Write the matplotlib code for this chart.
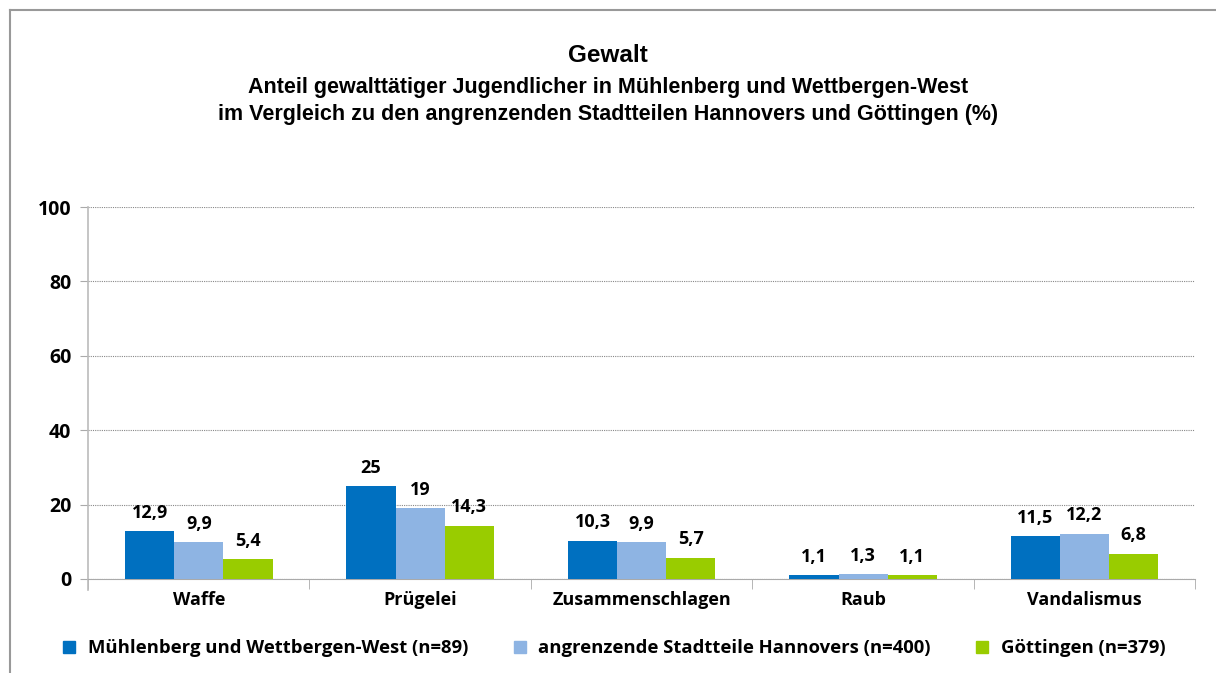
import matplotlib.pyplot as plt
import numpy as np
from matplotlib.lines import Line2D

kategorien = ['Waffe', 'Prügelei', 'Zusammenschlagen', 'Raub', 'Vandalismus']
muehlenberg = [12.9, 25, 10.3, 1.1, 11.5]
hannover = [9.9, 19, 9.9, 1.3, 12.2]
goettingen = [5.4, 14.3, 5.7, 1.1, 6.8]
serien = ['Mühlenberg und Wettbergen-West (n=89)',
          'angrenzende Stadtteile Hannovers (n=400)',
          'Göttingen (n=379)']
farben = ['#0070C0', '#8EB4E3', '#99CC00']

plt.rcParams['font.family'] = ['Open Sans', 'DejaVu Sans']

fig = plt.figure(figsize=(12.16, 6.73), dpi=100)
ax = fig.add_axes([0.0724, 0.1397, 0.9106, 0.5527])

x = np.arange(len(kategorien))
w = 0.222
for k, (werte, name) in enumerate(zip([muehlenberg, hannover, goettingen], serien)):
    pos = x + (k - 1) * w
    ax.bar(pos, werte, width=w, color=farben[k], label=name, zorder=3)
    for p, v in zip(pos, werte):
        txt = ('%g' % v).replace('.', ',')
        ax.text(p, v + 2.5, txt, ha='center', va='bottom', fontsize=13, fontweight='bold')

ax.set_xlim(-0.5, len(kategorien) - 0.5)
ax.set_ylim(0, 100)
ax.set_yticks(range(0, 101, 20))
ax.yaxis.grid(True, linestyle=(0, (1, 1)), color='#888888', linewidth=0.8, zorder=0)
for s in ['top', 'right']:
    ax.spines[s].set_visible(False)
ax.spines['left'].set_color('#BBBBBB')
ax.spines['bottom'].set_color('#AAAAAA')
ax.spines['left'].set_linewidth(1.2)
ax.spines['left'].set_bounds(-3, 100)
ax.set_xticks(x)
ax.set_xticklabels(kategorien, fontsize=13, fontweight='bold')
ax.set_xticks(np.arange(-0.5, len(kategorien)), minor=True)
ax.tick_params(axis='x', which='major', length=0, pad=9)
ax.tick_params(axis='x', which='minor', length=7, color='#AAAAAA')
ax.tick_params(axis='y', length=6, color='#AAAAAA', labelsize=14, pad=6)
for t in ax.get_yticklabels():
    t.set_fontweight('bold')

# Titel
fig.text(0.5, 0.917, 'Gewalt', ha='center', va='center', fontsize=17.5,
         fontweight='bold', family=['Liberation Sans', 'DejaVu Sans'])
fig.text(0.5, 0.850, 'Anteil gewalttätiger Jugendlicher in Mühlenberg und Wettbergen-West\n'
         'im Vergleich zu den angrenzenden Stadtteilen Hannovers und Göttingen (%)',
         ha='center', va='center', fontsize=15.5, fontweight='bold', linespacing=1.38,
         family=['Liberation Sans', 'DejaVu Sans'])

# Legende
handles = [Line2D([], [], marker='s', linestyle='', markersize=9, color=c) for c in farben]
fig.legend(handles, serien, loc='center', bbox_to_anchor=(0.5, 0.037), ncol=3,
           frameon=False, prop={'size': 13.3, 'weight': 'bold'}, handletextpad=0.0,
           columnspacing=1.8)

# Rahmen
fig.add_artist(Line2D([0.0082, 0.0082], [0, 0.985], color='#999999', lw=1.5))
fig.add_artist(Line2D([0.0082, 1], [0.985, 0.985], color='#999999', lw=1.5))

fig.savefig('out.png', dpi=100)
